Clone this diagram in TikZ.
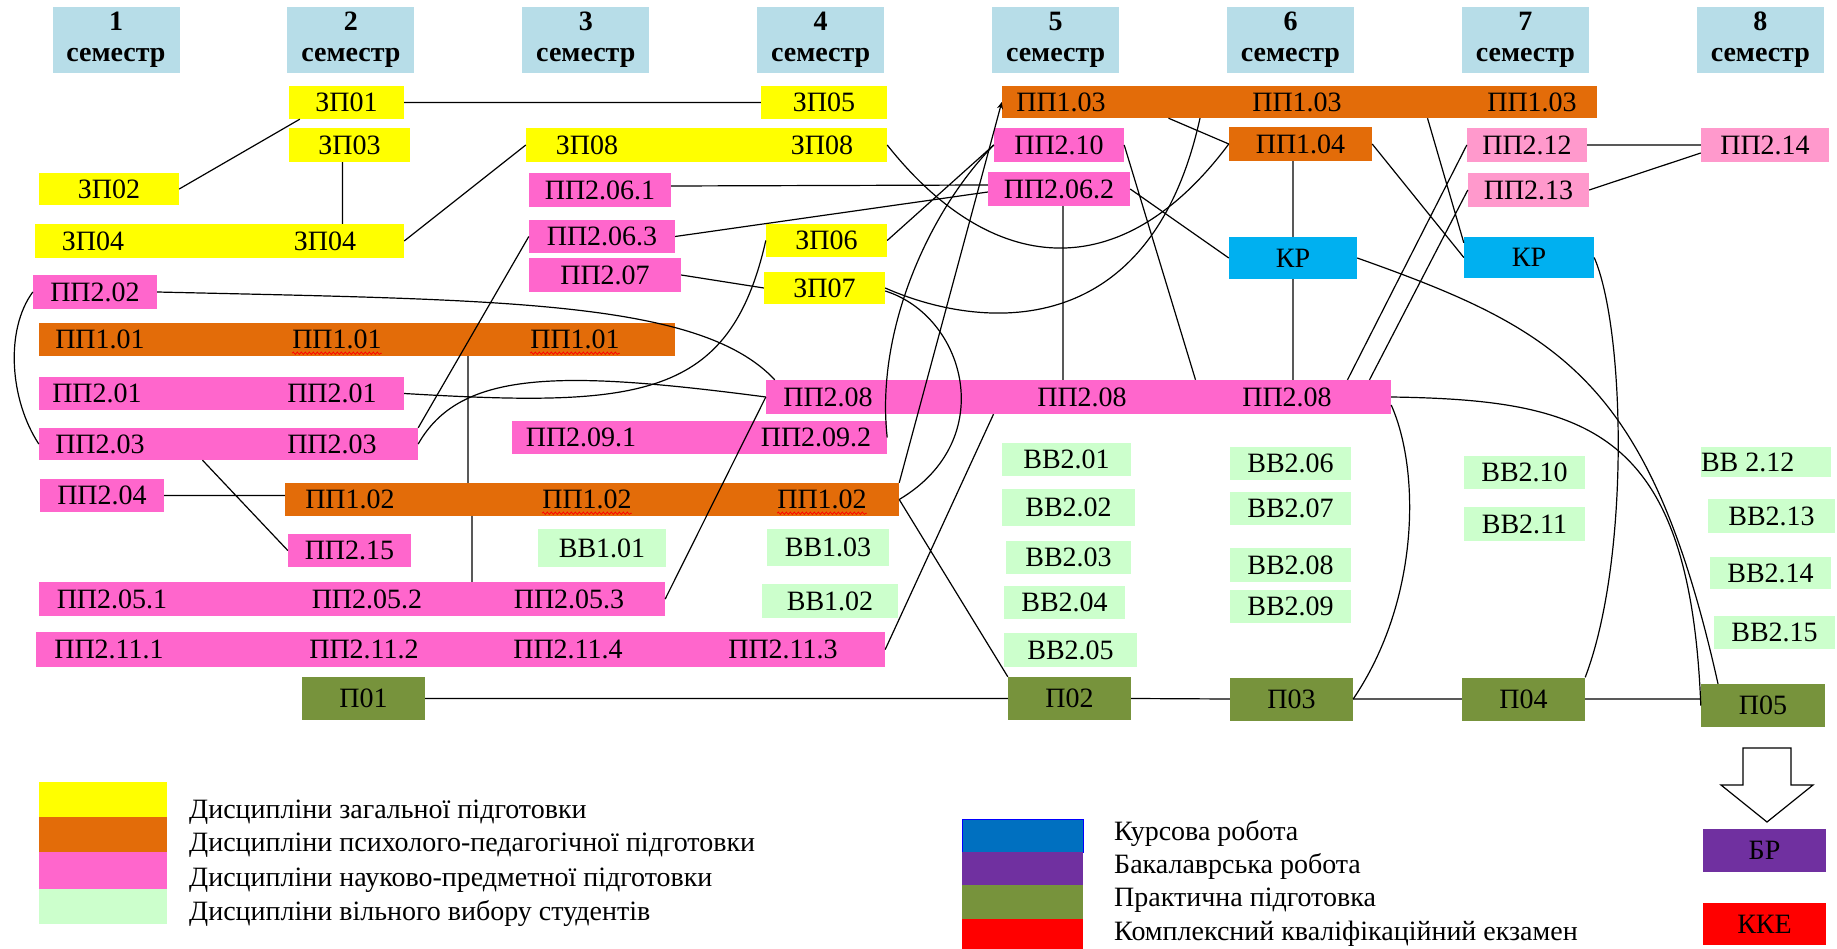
\documentclass[tikz,border=0pt]{standalone}
\usepackage{fontspec}
\setmainfont{Liberation Serif}
\usetikzlibrary{arrows.meta, decorations.pathmorphing}

\definecolor{semblue}{HTML}{B7DDE8}
\definecolor{zpyellow}{HTML}{FFFF00}
\definecolor{pporange}{HTML}{E36C09}
\definecolor{pppink}{HTML}{FF66CC}
\definecolor{pplight}{HTML}{FF99CC}
\definecolor{vvgreen}{HTML}{CCFFCC}
\definecolor{krblue}{HTML}{00B0F0}
\definecolor{prgreen}{HTML}{77933C}
\definecolor{lgblue}{HTML}{0070C0}
\definecolor{brpurple}{HTML}{7030A0}
\definecolor{kkered}{HTML}{FF0000}

\tikzstyle{cell} = [rectangle, inner sep=0pt,
minimum height=33pt,
text centered,
font=\fontsize{28}{31}\selectfont]
\tikzstyle{sem} = [cell, fill=semblue,
minimum width=127pt,
minimum height=66pt,
align=center,
font=\fontsize{28}{31}\selectfont\bfseries]
\tikzstyle{zp} = [cell, fill=zpyellow]
\tikzstyle{ppa} = [cell, fill=pporange]
\tikzstyle{ppb} = [cell, fill=pppink]
\tikzstyle{ppc} = [cell, fill=pplight]
\tikzstyle{vv} = [cell, fill=vvgreen]
\tikzstyle{kr} = [cell, fill=krblue, minimum height=42pt]
\tikzstyle{pr} = [cell, fill=prgreen, minimum height=43pt]
\tikzstyle{lbl} = [inner sep=0pt, font=\fontsize{28}{31}\selectfont]
\tikzstyle{conn} = [line width=1.2pt, black]
\tikzstyle{arrow} = [conn, -{Stealth[length=7pt, width=6pt]}]
\tikzstyle{spell} = [red, line width=0.7pt, decorate,
decoration={snake, amplitude=1.2pt, segment length=4pt}]

\begin{document}
\begin{tikzpicture}[x=1pt, y=-1pt]
\fill[white] (0,0) rectangle (1837,949);
\useasboundingbox (0,0) rectangle (1837,949);

% semesters
\foreach \i in {1,...,8}
  \node[sem] (sem\i) at ({116+234.9*(\i-1)},40) {\i\\семестр};

% general training
\node[zp, minimum width=115pt] (zp01) at (346.5,102.5) {ЗП01};
\node[zp, minimum width=126pt] (zp05) at (824,102.5) {ЗП05};
\node[zp, minimum width=121pt, minimum height=34pt] (zp03) at (349.5,145) {ЗП03};
\node[zp, minimum width=361pt, minimum height=34pt] (zp08) at (706.5,145) {};
\node[lbl] (zp08a) at (587,145) {ЗП08};
\node[lbl] (zp08b) at (822,145) {ЗП08};
\node[zp, minimum width=140pt, minimum height=32pt] (zp02) at (109,189) {ЗП02};
\node[zp, minimum width=369pt, minimum height=34pt] (zp04) at (219.5,241) {};
\node[lbl] (zp04a) at (93,241) {ЗП04};
\node[lbl] (zp04b) at (325,241) {ЗП04};
\node[zp, minimum width=121pt] (zp06) at (826.5,240.5) {ЗП06};
\node[zp, minimum width=121pt, minimum height=32pt] (zp07) at (824.5,288) {ЗП07};

% psychological and pedagogical training
\node[ppa, minimum width=595pt, minimum height=32pt] (pp103) at (1299.5,102) {};
\node[lbl] (pp103a) at (1061,102) {ПП1.03};
\node[lbl] (pp103b) at (1297,102) {ПП1.03};
\node[lbl] (pp103c) at (1532,102) {ПП1.03};
\node[ppa, minimum width=143pt, minimum height=34pt] (pp104) at (1300.5,144) {ПП1.04};
\node[ppa, minimum width=636pt] (pp101) at (357,339.5) {};
\node[lbl] (pp101a) at (100,339.5) {ПП1.01};
\node[lbl] (pp101b) at (337,339.5) {ПП1.01};
\node[lbl] (pp101c) at (575,339.5) {ПП1.01};
\node[ppa, minimum width=614pt] (pp102) at (592,499.5) {};
\node[lbl] (pp102a) at (350,499.5) {ПП1.02};
\node[lbl] (pp102b) at (587,499.5) {ПП1.02};
\node[lbl] (pp102c) at (822,499.5) {ПП1.02};

% subject training
\node[ppb, minimum width=130pt, minimum height=34pt] (pp210) at (1059,145) {ПП2.10};
\node[ppb, minimum width=142pt, minimum height=34pt] (pp2061) at (600,190) {ПП2.06.1};
\node[ppb, minimum width=142pt, minimum height=34pt] (pp2062) at (1059,189) {ПП2.06.2};
\node[ppb, minimum width=146pt] (pp2063) at (602,236.5) {ПП2.06.3};
\node[ppb, minimum width=152pt, minimum height=34pt] (pp207) at (605,275) {ПП2.07};
\node[ppb, minimum width=124pt, minimum height=34pt] (pp202) at (95,292) {ПП2.02};
\node[ppb, minimum width=365pt] (pp201) at (221.5,393.5) {};
\node[lbl] (pp201a) at (97,393.5) {ПП2.01};
\node[lbl] (pp201b) at (332,393.5) {ПП2.01};
\node[ppb, minimum width=625pt, minimum height=34pt] (pp208) at (1078.5,397) {};
\node[lbl] (pp208a) at (828,397) {ПП2.08};
\node[lbl] (pp208b) at (1082,397) {ПП2.08};
\node[lbl] (pp208c) at (1287,397) {ПП2.08};
\node[ppb, minimum width=379pt, minimum height=32pt] (pp203) at (228.5,444) {};
\node[lbl] (pp203a) at (100,444) {ПП2.03};
\node[lbl] (pp203b) at (332,444) {ПП2.03};
\node[ppb, minimum width=375pt] (pp209) at (699.5,437.5) {};
\node[lbl] (pp209a) at (581,437.5) {ПП2.09.1};
\node[lbl] (pp209b) at (816,437.5) {ПП2.09.2};
\node[ppb, minimum width=124pt] (pp204) at (102,495.5) {ПП2.04};
\node[ppb, minimum width=123pt] (pp215) at (349.5,550.5) {ПП2.15};
\node[ppb, minimum width=626pt, minimum height=34pt] (pp205) at (352,599) {};
\node[lbl] (pp205a) at (112,599) {ПП2.05.1};
\node[lbl] (pp205b) at (367,599) {ПП2.05.2};
\node[lbl] (pp205c) at (569,599) {ПП2.05.3};
\node[ppb, minimum width=849pt, minimum height=35pt] (pp211) at (460.5,649.5) {};
\node[lbl] (pp211a) at (109,649.5) {ПП2.11.1};
\node[lbl] (pp211b) at (364,649.5) {ПП2.11.2};
\node[lbl] (pp211c) at (568,649.5) {ПП2.11.4};
\node[lbl] (pp211d) at (783,649.5) {ПП2.11.3};
\node[ppc, minimum width=120pt, minimum height=34pt] (pp212) at (1527,145) {ПП2.12};
\node[ppc, minimum width=121pt, minimum height=34pt] (pp213) at (1528.5,190) {ПП2.13};
\node[ppc, minimum width=128pt, minimum height=34pt] (pp214) at (1765,145) {ПП2.14};

% course works
\node[kr, minimum width=128pt] (kr6) at (1293,258) {КР};
\node[kr, minimum width=130pt, minimum height=41pt] (kr7) at (1529,257.5) {КР};

% free choice
\node[vv, minimum width=128pt, minimum height=38pt] (vv101) at (602,548) {ВВ1.01};
\node[vv, minimum width=122pt, minimum height=37pt] (vv103) at (828,547.5) {ВВ1.03};
\node[vv, minimum width=136pt, minimum height=34pt] (vv102) at (830,601) {ВВ1.02};
\node[vv, minimum width=129pt] (vv201) at (1066.5,459.5) {ВВ2.01};
\node[vv, minimum width=133pt, minimum height=37pt] (vv202) at (1068.5,507.5) {ВВ2.02};
\node[vv, minimum width=125pt] (vv203) at (1068.5,557.5) {ВВ2.03};
\node[vv, minimum width=121pt] (vv204) at (1064.5,602.5) {ВВ2.04};
\node[vv, minimum width=133pt, minimum height=34pt] (vv205) at (1070.5,650) {ВВ2.05};
\node[vv, minimum width=121pt] (vv206) at (1290.5,463.5) {ВВ2.06};
\node[vv, minimum width=121pt] (vv207) at (1290.5,508.5) {ВВ2.07};
\node[vv, minimum width=121pt, minimum height=34pt] (vv208) at (1290.5,565) {ВВ2.08};
\node[vv, minimum width=121pt] (vv209) at (1290.5,606.5) {ВВ2.09};
\node[vv, minimum width=121pt] (vv210) at (1524.5,472.5) {ВВ2.10};
\node[vv, minimum width=121pt, minimum height=34pt] (vv211) at (1524.5,524) {ВВ2.11};
\node[vv, minimum width=130pt, minimum height=30pt] (vv212) at (1766,462) {};
\node[lbl, anchor=west] (vv212a) at (vv212.west) {ВВ 2.12};
\node[vv, minimum width=127pt, minimum height=34pt] (vv213) at (1771.5,516) {ВВ2.13};
\node[vv, minimum width=121pt, minimum height=32pt] (vv214) at (1770.5,573) {ВВ2.14};
\node[vv, minimum width=121pt] (vv215) at (1774.5,632.5) {ВВ2.15};

% practice
\node[pr, minimum width=123pt] (p01) at (363.5,698.5) {П01};
\node[pr, minimum width=123pt] (p02) at (1069.5,698.5) {П02};
\node[pr, minimum width=123pt] (p03) at (1291.5,699) {П03};
\node[pr, minimum width=123pt] (p04) at (1523.5,699) {П04};
\node[pr, minimum width=124pt] (p05) at (1763,705.5) {П05};

% final
\draw[conn, fill=white] (1743,748) -- (1791,748) -- (1791,785) -- (1813,785)
  -- (1767,822) -- (1721,785) -- (1743,785) -- cycle;
\node[cell, fill=brpurple, minimum width=123pt, minimum height=43pt] (br) at (1764.5,850.5) {БР};
\node[cell, fill=kkered, minimum width=123pt, minimum height=42pt] (kke) at (1764.5,924) {ККЕ};

% legend
\node[cell, fill=zpyellow, minimum width=128pt, minimum height=35pt] (lgzp) at (103,799.5) {};
\node[cell, fill=pporange, minimum width=128pt, minimum height=35pt] (lgppa) at (103,834.5) {};
\node[cell, fill=pppink, minimum width=128pt, minimum height=37pt] (lgppb) at (103,870.5) {};
\node[cell, fill=vvgreen, minimum width=128pt, minimum height=35pt] (lgvv) at (103,906.5) {};
\node[lbl, anchor=base west] (lgzpt) at (189,818) {Дисципліни загальної підготовки};
\node[lbl, anchor=base west] (lgppat) at (189,851) {Дисципліни психолого-педагогічної підготовки};
\node[lbl, anchor=base west] (lgppbt) at (189,886) {Дисципліни науково-предметної підготовки};
\node[lbl, anchor=base west] (lgvvt) at (189,920) {Дисципліни вільного вибору студентів};
\node[cell, fill=lgblue, draw=blue, line width=1pt, minimum width=121pt, minimum height=33pt] (lgkr) at (1022.5,835.5) {};
\node[cell, fill=brpurple, minimum width=121pt, minimum height=33pt] (lgbr) at (1022.5,868.5) {};
\node[cell, fill=prgreen, minimum width=121pt, minimum height=34pt] (lgpr) at (1022.5,902) {};
\node[cell, fill=kkered, minimum width=121pt, minimum height=34pt] (lgkke) at (1022.5,936) {};
\node[lbl, anchor=base west] (lgkrt) at (1114,840) {Курсова робота};
\node[lbl, anchor=base west] (lgbrt) at (1114,873) {Бакалаврська робота};
\node[lbl, anchor=base west] (lgprt) at (1114,906) {Практична підготовка};
\node[lbl, anchor=base west] (lgkket) at (1114,940) {Комплексний кваліфікаційний екзамен};

% spelling marks
\foreach \n in {pp101b,pp101c,pp102b,pp102c}
  \draw[spell] ([yshift=-4pt]\n.south west) -- ([yshift=-4pt]\n.south east);

% links
\draw[conn] (zp01.east) -- (zp05.west)
  ([xshift=11pt]zp01.south west) -- (zp02.east)
  ([xshift=-7pt]zp03.south) -- ([xshift=-7pt]zp03.south |- zp04.north)
  (zp04.east) -- (zp08.west)
  ([yshift=4pt]pp2061.east) -- ([yshift=4pt]pp2062.west)
  (pp2063.east) -- ([yshift=-3pt]pp2062.west)
  (zp06.east) -- (pp210.west)
  (pp207.east) -- (zp07.west)
  (pp102.east) -- (p02.north west)
  (pp211.east) -- ([xshift=-85pt]pp208.south)
  (pp205.east) -- (pp208.west)
  (pp203.north east) -- (pp2063.west)
  ([xshift=111pt]pp101.south) -- ([xshift=111pt]pp101.south |- pp102.north)
  ([xshift=-120pt]pp102.south) -- ([xshift=-120pt]pp102.south |- pp205.north)
  ([xshift=-26pt]pp203.south) -- (pp215.west)
  (pp204.east) -- (pp204.east -| pp102.west)
  (pp2062.east) -- (kr6.west)
  ([xshift=4pt]pp2062.south) -- ([xshift=4pt]pp2062.south |- pp208.north)
  (pp210.east) -- ([xshift=117pt]pp208.north)
  (pp104.south -| kr6.north) -- (kr6.north)
  (kr6.south) -- (kr6.south |- pp208.north)
  ([xshift=-131pt]pp103.south) -- (pp104.west)
  (pp104.east) -- (kr7.west)
  ([xshift=128pt]pp103.south) -- ([yshift=-6pt]kr7.north west)
  (pp212.west) -- ([xshift=269pt]pp208.north)
  (pp213.west) -- ([xshift=291pt]pp208.north)
  (pp212.east) -- (pp214.west)
  (pp213.east) -- ([yshift=-8pt]pp214.west)
  (p01.east) -- (p02.west)
  (p02.east) -- (p03.west)
  (p03.east) -- (p04.west)
  (p04.east) -- (p04.east -| p05.west);
\draw[arrow] (pp102.north east) -- (pp103.west);

% curved links
\draw[conn] (zp08.east) .. controls +(103,130) and +(-109,146) .. (pp104.west);
\draw[conn] (zp07.east) .. controls +(95,42) and +(-50,227) .. ([xshift=-99.5pt]pp103.south);
\draw[conn] ([yshift=-3pt]zp07.east) .. controls +(80,25) and +(101,-60) .. (pp102.east);
\draw[conn] (pp202.east) .. controls +(343,8) and +(-75,-80) .. ([xshift=9pt]pp208.north west);
\draw[conn] (pp201.east) .. controls +(236,14) and +(-36,159) .. (zp06.west);
\draw[conn] (pp203.east) .. controls +(42,-74) and +(-206,-27) .. (pp208.west);
\draw[conn] (pp202.west) .. controls +(-28,38) and +(-29,-44) .. (pp203.west);
\draw[conn] (pp209.east) .. controls +(-12,-108) and +(-64,65) .. (pp210.west);
\draw[conn] (kr6.east) .. controls +(203,72) and +(-68,-304) .. ([xshift=-45pt]p05.north);
\draw[conn] (kr7.east) .. controls +(31,72) and +(45,-118) .. (p04.north east);
\draw[conn] (pp208.east) .. controls +(199,3) and +(-11,-275) .. (p05.west);
\draw[conn] ([yshift=-8pt]pp208.east) .. controls +(29,65) and +(67,-99) .. (p03.east);
\end{tikzpicture}
\end{document}
